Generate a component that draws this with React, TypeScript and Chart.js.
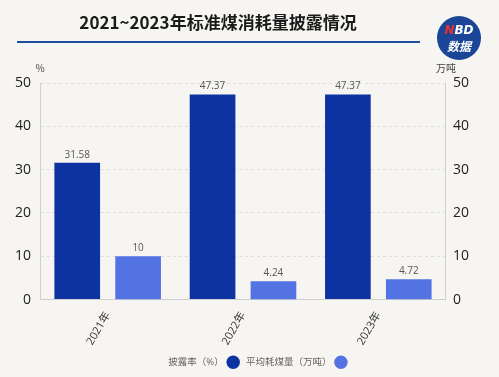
import React, { useEffect, useRef } from "react";
import { Chart, registerables } from "chart.js";

Chart.register(...registerables);

const categories = ["2021年", "2022年", "2023年"];
const disclosureRate = [31.58, 47.37, 47.37];
const avgCoal = [10, 4.24, 4.72];
const seriesNames = ["披露率（%）", "平均耗煤量（万吨）"];
const yTicks = [0, 10, 20, 30, 40, 50];
const titleText = "2021~2023年标准煤消耗量披露情况";

const BG = "#f7f5f1";
const DARK = "#0d33a0";
const LIGHT = "#5473e2";
const CJK = '"Open Sans", "Noto Sans CJK SC", sans-serif';

const legendShift = {
  id: "legendShift",
  afterLayout(chart: any) {
    const lg = chart.legend;
    if (lg) {
      lg.left += 16;
      lg.right += 16;
    }
  },
};

const decorPlugin = {
  id: "decor",
  beforeDraw(chart: any) {
    const ctx = chart.ctx;
    ctx.save();
    ctx.fillStyle = BG;
    ctx.fillRect(0, 0, chart.width, chart.height);
    ctx.restore();
  },
  afterDraw(chart: any) {
    const ctx = chart.ctx;
    const area = chart.chartArea;
    ctx.save();
    // title
    ctx.fillStyle = "#1a1a1a";
    ctx.font = 'bold 17px "Noto Sans CJK SC", sans-serif';
    ctx.textAlign = "center";
    ctx.textBaseline = "middle";
    ctx.fillText(titleText, 218, 23);
    // underline
    ctx.strokeStyle = "#1f4e9e";
    ctx.lineWidth = 2;
    ctx.beginPath();
    ctx.moveTo(17, 42);
    ctx.lineTo(420, 42);
    ctx.stroke();
    // logo
    ctx.fillStyle = "#1b4596";
    ctx.beginPath();
    ctx.arc(459, 38, 22, 0, Math.PI * 2);
    ctx.fill();
    ctx.font = 'italic bold 12px "DejaVu Sans", sans-serif';
    ctx.textAlign = "left";
    const nW = ctx.measureText("N").width;
    const bdW = ctx.measureText("BD").width;
    const sx = 459 - (nW + bdW) / 2;
    ctx.fillStyle = "#e8322c";
    ctx.fillText("N", sx, 31);
    ctx.fillStyle = "#ffffff";
    ctx.fillText("BD", sx + nW, 31);
    ctx.font = 'italic bold 12px "Noto Sans CJK SC", sans-serif';
    ctx.textAlign = "center";
    ctx.fillText("数据", 459, 46);
    // unit labels
    ctx.fillStyle = "#444";
    ctx.font = '10px "Noto Sans CJK SC", sans-serif';
    ctx.fillText("%", area.left, area.top - 15);
    ctx.fillText("万吨", area.right, area.top - 15);
    // value labels
    ctx.font = '10px "Open Sans", sans-serif';
    ctx.fillStyle = "#555";
    ctx.textBaseline = "bottom";
    chart.data.datasets.forEach((ds: any, i: number) => {
      const meta = chart.getDatasetMeta(i);
      meta.data.forEach((bar: any, j: number) => {
        ctx.fillText(String(ds.data[j]), bar.x, bar.y - 3);
      });
    });
    ctx.restore();
  },
};

export default function App() {
  const ref = useRef<HTMLCanvasElement>(null);
  useEffect(() => {
    if (!ref.current) return;
    const chart = new Chart(ref.current, {
      type: "bar",
      data: {
        labels: categories,
        datasets: [
          {
            label: seriesNames[0],
            data: disclosureRate,
            backgroundColor: DARK,
            yAxisID: "y",
            categoryPercentage: 0.9,
            barPercentage: 0.75,
          },
          {
            label: seriesNames[1],
            data: avgCoal,
            backgroundColor: LIGHT,
            yAxisID: "y1",
            categoryPercentage: 0.9,
            barPercentage: 0.75,
          },
        ],
      },
      options: {
        animation: false,
        responsive: true,
        maintainAspectRatio: false,
        layout: { padding: { top: 83, left: 6, right: 23, bottom: 0 } },
        font: { family: CJK },
        scales: {
          x: {
            grid: { display: false },
            border: { display: true, color: "#cfcfcf", width: 1 },
            ticks: {
              minRotation: 60,
              maxRotation: 60,
              color: "#333",
              font: { size: 11, family: CJK },
              padding: 2,
            },
          },
          y: {
            position: "left",
            min: 0,
            max: 50,
            afterBuildTicks: (s: any) => {
              s.ticks = yTicks.map((v) => ({ value: v }));
            },
            grid: { color: "#dedede", drawTicks: false },
            border: { display: true, color: "#cfcfcf", dash: [3, 3] },
            ticks: { color: "#222", font: { size: 14, family: CJK }, padding: 9 },
          },
          y1: {
            position: "right",
            min: 0,
            max: 50,
            afterBuildTicks: (s: any) => {
              s.ticks = yTicks.map((v) => ({ value: v }));
            },
            grid: { display: false, drawTicks: false },
            border: { display: true, color: "#cfcfcf" },
            ticks: { color: "#222", font: { size: 14, family: CJK }, padding: 7 },
          },
        },
        plugins: {
          title: { display: false },
          tooltip: { enabled: false },
          legend: {
            display: true,
            position: "bottom",
            rtl: true,
            reverse: true,
            textDirection: "ltr",
            labels: {
              usePointStyle: true,
              pointStyle: "circle",
              boxWidth: 10,
              boxHeight: 10,
              color: "#666",
              font: { size: 9.5, family: CJK },
              padding: 8,
            },
          },
        },
      } as any,
      plugins: [decorPlugin, legendShift],
    });
    return () => chart.destroy();
  }, []);
  return (
    <div style={{ position: "fixed", left: 0, top: 0, width: 499, height: 377, background: BG }}>
      <canvas ref={ref} />
    </div>
  );
}
